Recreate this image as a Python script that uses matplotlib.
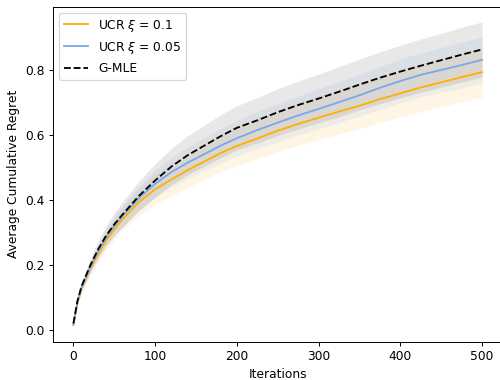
import matplotlib
matplotlib.use("Agg")
import matplotlib.pyplot as plt
import numpy as np

iters = [0, 5, 10, 20, 30, 40, 50, 60, 80, 100, 120, 140, 160, 180, 200,
         225, 250, 275, 300, 325, 350, 375, 400, 425, 450, 475, 500]

# mean average cumulative regret
ucr_01 = [0.02, 0.085, 0.128, 0.185, 0.233, 0.275, 0.31, 0.34, 0.393, 0.433,
          0.463, 0.492, 0.518, 0.544, 0.566, 0.589, 0.613, 0.634, 0.653, 0.672,
          0.69, 0.71, 0.728, 0.746, 0.762, 0.778, 0.793]
ucr_005 = [0.015, 0.088, 0.132, 0.19, 0.242, 0.285, 0.32, 0.35, 0.405, 0.45,
           0.486, 0.515, 0.541, 0.567, 0.59, 0.615, 0.638, 0.66, 0.68, 0.701,
           0.722, 0.745, 0.766, 0.785, 0.8, 0.815, 0.831]
gmle = [0.02, 0.09, 0.135, 0.195, 0.247, 0.29, 0.325, 0.355, 0.412, 0.46,
        0.503, 0.538, 0.567, 0.596, 0.622, 0.645, 0.67, 0.692, 0.712, 0.733,
        0.755, 0.776, 0.795, 0.813, 0.83, 0.847, 0.863]

# half-widths of the shaded bands
ucr_01_sd = [0.004, 0.01, 0.014, 0.019, 0.024, 0.028, 0.032, 0.035, 0.041, 0.046,
             0.05, 0.053, 0.056, 0.058, 0.06, 0.062, 0.064, 0.066, 0.068, 0.069,
             0.07, 0.072, 0.073, 0.074, 0.075, 0.076, 0.077]
ucr_005_sd = [0.004, 0.009, 0.013, 0.018, 0.022, 0.026, 0.029, 0.032, 0.037, 0.042,
              0.045, 0.048, 0.051, 0.053, 0.055, 0.057, 0.059, 0.06, 0.062, 0.063,
              0.064, 0.066, 0.067, 0.068, 0.069, 0.07, 0.07]
gmle_sd = [0.005, 0.011, 0.015, 0.021, 0.026, 0.031, 0.035, 0.039, 0.046, 0.051,
           0.056, 0.06, 0.063, 0.066, 0.068, 0.07, 0.072, 0.074, 0.075, 0.077,
           0.078, 0.08, 0.081, 0.082, 0.083, 0.084, 0.085]

# 88 dpi so the default 10pt text comes out at the reference's pixel size
dpi = 88
fig = plt.figure(figsize=(500 / dpi, 380 / dpi), dpi=dpi)
ax = fig.add_axes([0.106, 0.101, 0.899, 0.8816])

x = np.array(iters)
series = [
    (ucr_01, ucr_01_sd, "#FFB000", "orange", 0.1, "-", r"UCR $\xi$ = 0.1"),
    (ucr_005, ucr_005_sd, "#7BA7EA", "cornflowerblue", 0.1, "-", r"UCR $\xi$ = 0.05"),
    (gmle, gmle_sd, "black", "gray", 0.18, "--", "G-MLE"),
]

for mean, sd, col, fcol, a, ls, lab in series:
    m = np.array(mean)
    s = np.array(sd)
    ax.fill_between(x, m - s, m + s, color=fcol, alpha=a, linewidth=0)

for mean, sd, col, fcol, a, ls, lab in series:
    ax.plot(x, mean, color=col, linestyle=ls, linewidth=1.5, label=lab)

ax.set_xlabel("Iterations")
ax.set_ylabel("Average Cumulative Regret")
ax.set_xticks([0, 100, 200, 300, 400, 500])
ax.set_yticks([0.0, 0.2, 0.4, 0.6, 0.8])
ax.legend(loc="upper left")

fig.savefig("out.png", dpi=dpi)
